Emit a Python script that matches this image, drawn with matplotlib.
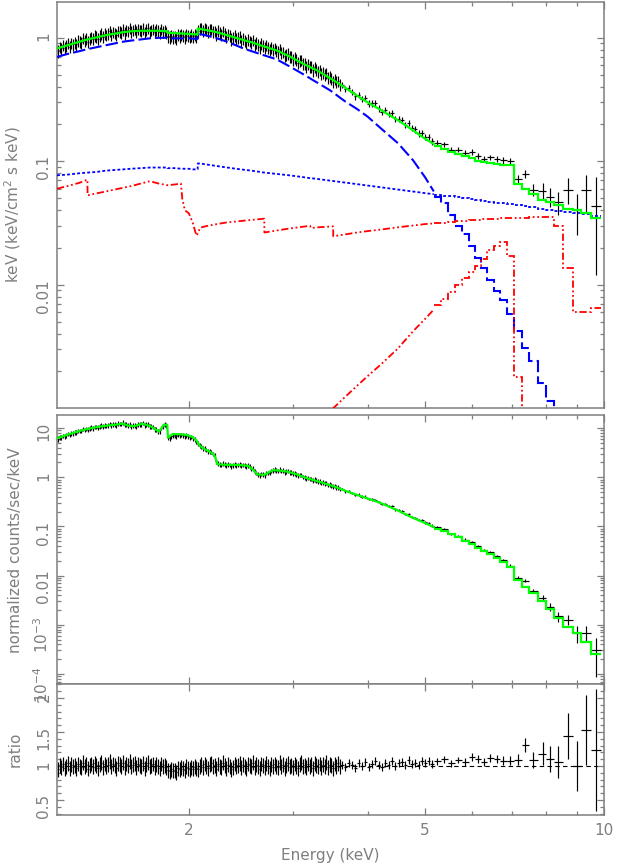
import numpy as np
import matplotlib
matplotlib.use('Agg')
from matplotlib import pyplot as plt
from matplotlib.ticker import FixedLocator, FixedFormatter, NullFormatter, LogLocator, MultipleLocator

plt.rcParams['font.family'] = ['DejaVu Sans']
plt.rcParams['mathtext.default'] = 'regular'

## ---- values (XSPEC style eufspec / ldata / ratio) ----

## smooth part of the unfolded model (keV), edges given as near-duplicate energies
e_sm = [1.20, 1.25, 1.31, 1.35, 1.351, 1.40, 1.45, 1.50, 1.55, 1.60,
        1.66, 1.72, 1.78, 1.84, 1.841, 1.90, 1.94, 1.95, 1.97, 2.00,
        2.03, 2.06, 2.07, 2.071, 2.09, 2.15, 2.23, 2.32, 2.40, 2.47,
        2.55, 2.68, 2.681, 2.81, 2.95, 3.11, 3.20, 3.21, 3.30, 3.46,
        3.50, 3.501, 3.65, 3.84, 4.00, 4.21, 4.50, 4.77, 5.00, 5.17]
tot_sm = [0.82, 0.87, 0.93, 0.97, 0.97, 1.01, 1.05, 1.08, 1.11, 1.13,
          1.14, 1.14, 1.14, 1.13, 1.10, 1.09, 1.085, 1.085, 1.08, 1.075,
          1.07, 1.065, 1.065, 1.19, 1.18, 1.15, 1.11, 1.05, 1.00, 0.96,
          0.92, 0.85, 0.85, 0.79, 0.71, 0.62, 0.58, 0.575, 0.54, 0.47,
          0.455, 0.455, 0.40, 0.34, 0.30, 0.26, 0.215, 0.178, 0.152, 0.138]
bb_sm = [0.70, 0.74, 0.78, 0.81, 0.81, 0.84, 0.87, 0.90, 0.93, 0.95,
         0.97, 0.99, 1.00, 1.00, 0.99, 0.99, 0.99, 0.99, 0.99, 0.99,
         0.985, 0.98, 0.98, 1.08, 1.07, 1.04, 0.99, 0.93, 0.87, 0.82,
         0.78, 0.72, 0.72, 0.67, 0.59, 0.51, 0.47, 0.465, 0.43, 0.375,
         0.36, 0.36, 0.31, 0.265, 0.23, 0.185, 0.14, 0.102, 0.074, 0.057]
pl_sm = [0.077, 0.078, 0.080, 0.081, 0.081, 0.082, 0.084, 0.085, 0.086, 0.087,
         0.088, 0.089, 0.089, 0.089, 0.088, 0.088, 0.087, 0.087, 0.087, 0.087,
         0.086, 0.086, 0.086, 0.096, 0.096, 0.094, 0.0915, 0.089, 0.087, 0.0855,
         0.084, 0.081, 0.081, 0.079, 0.077, 0.0745, 0.073, 0.073, 0.0718, 0.0697,
         0.0692, 0.0692, 0.0674, 0.0653, 0.0636, 0.0616, 0.0590, 0.0569, 0.0552, 0.0541]
r1_sm = [0.060, 0.063, 0.067, 0.071, 0.053, 0.055, 0.057, 0.059, 0.061, 0.063,
         0.066, 0.069, 0.066, 0.064, 0.064, 0.065, 0.066, 0.050, 0.040, 0.038,
         0.032, 0.025, 0.026, 0.026, 0.029, 0.030, 0.031, 0.032, 0.0325, 0.033,
         0.0335, 0.0343, 0.0265, 0.0275, 0.0285, 0.0295, 0.030, 0.0288, 0.0292, 0.0296,
         0.0297, 0.0247, 0.0255, 0.0265, 0.0272, 0.028, 0.0292, 0.0302, 0.031, 0.0314]
r2_sm = [0.000008, 0.00001, 0.000012, 0.000014, 0.000014, 0.000016, 0.000019, 0.000022, 0.000025, 0.000029,
         0.000034, 0.00004, 0.000046, 0.000053, 0.000053, 0.00006, 0.000066, 0.000067, 0.00007, 0.000075,
         0.00008, 0.000085, 0.000087, 0.000087, 0.00009, 0.0001, 0.00012, 0.00014, 0.00016, 0.00018,
         0.00021, 0.00030, 0.00030, 0.00037, 0.00046, 0.00058, 0.00065, 0.00066, 0.00077, 0.00095,
         0.00100, 0.00100, 0.00121, 0.00152, 0.00182, 0.00226, 0.00305, 0.0042, 0.0053, 0.0063]

## smooth part of the folded (counts) model
e_cs = [1.20, 1.26, 1.32, 1.37, 1.42, 1.47, 1.52, 1.55, 1.58, 1.62,
        1.67, 1.70, 1.73, 1.76, 1.78, 1.80, 1.815, 1.84, 1.845, 1.88,
        1.93, 1.98, 2.03, 2.06, 2.09, 2.13, 2.17, 2.20, 2.215, 2.235,
        2.29, 2.38, 2.46, 2.52, 2.57, 2.61, 2.68, 2.74, 2.78, 2.86,
        2.95, 3.05, 3.16, 3.33, 3.50, 3.72, 3.95, 4.21, 4.50, 4.77,
        5.00, 5.17]
cnt_sm = [6.2, 7.6, 9.0, 10.0, 10.8, 11.4, 11.9, 12.4, 11.2, 11.0,
          12.3, 11.6, 10.7, 9.3, 8.5, 10.0, 11.8, 11.6, 6.4, 7.6,
          7.5, 7.3, 6.6, 5.6, 4.3, 3.7, 3.3, 3.0, 2.6, 1.85,
          1.80, 1.79, 1.76, 1.70, 1.40, 1.14, 1.12, 1.30, 1.40, 1.36,
          1.28, 1.13, 0.96, 0.80, 0.66, 0.50, 0.39, 0.30, 0.21, 0.149,
          0.117, 0.097]

## coarse high-energy bins (centres, keV) with model values per bin
e_sp = [5.24, 5.38, 5.53, 5.68, 5.84, 6.00, 6.14, 6.29, 6.44, 6.61, 6.77,
        6.95, 7.17, 7.37, 7.60, 7.88, 8.12, 8.38, 8.71, 9.02, 9.31, 9.68]
tot_sp = [0.132, 0.125, 0.119, 0.114, 0.110, 0.106, 0.101, 0.098, 0.096, 0.095, 0.094,
          0.093, 0.066, 0.060, 0.054, 0.049, 0.047, 0.044, 0.041, 0.040, 0.038, 0.035]
bb_sp = [0.051, 0.0456, 0.037, 0.030, 0.026, 0.0207, 0.0166, 0.0137, 0.0110, 0.0089, 0.0075,
         0.0058, 0.0042, 0.0031, 0.0024, 0.0016, 0.00114, 0.0006, 0.0004, 0.0003, 0.0002, 0.00015]
pl_sp = [0.0537, 0.0528, 0.0519, 0.0510, 0.0501, 0.0492, 0.0485, 0.0478, 0.0471, 0.0463, 0.0456,
         0.0449, 0.0440, 0.0432, 0.0424, 0.0414, 0.0406, 0.0398, 0.0388, 0.0379, 0.0371, 0.0362]
r1_sp = [0.0315, 0.0318, 0.0322, 0.0326, 0.0330, 0.0333, 0.0336, 0.0339, 0.0341, 0.0343, 0.0345,
         0.0347, 0.0348, 0.0350, 0.0351, 0.0352, 0.0353, 0.0300, 0.0137, 0.0060, 0.0060, 0.0065]
r2_sp = [0.0068, 0.0077, 0.0088, 0.0100, 0.0114, 0.0128, 0.0142, 0.0162, 0.0190, 0.0205, 0.0220,
         0.0171, 0.0018, 0.0001, 0.0001, 0.0001, 0.0001, 0.0001, 0.0001, 0.0001, 0.0001, 0.0001]
cnt_sp = [0.090, 0.079, 0.069, 0.060, 0.051, 0.043, 0.036, 0.031, 0.027, 0.023, 0.019,
          0.0148, 0.0082, 0.0060, 0.0045, 0.0030, 0.0021, 0.0014, 0.00088, 0.00068, 0.00045, 0.00025]

## data / model ratio per bin: fine bins 1.2-3.6 keV, medium bins 3.6-5.17 keV, coarse bins above
ratio_dense = [0.95, 1.01, 0.98, 1.03, 0.97, 1.00, 1.04, 0.96, 1.02, 0.99,
               1.01, 0.97, 1.03, 1.00, 0.98, 1.05, 0.99, 1.02, 0.96, 1.01,
               1.03, 0.99, 1.04, 1.01, 0.97, 1.02, 1.05, 0.98, 1.03, 1.00,
               1.02, 1.06, 0.99, 1.03, 1.01, 0.97, 1.04, 1.02, 1.00, 1.05,
               0.98, 1.03, 1.01, 1.06, 0.99, 1.02, 1.04, 0.98, 1.03, 1.01,
               1.00, 1.04, 0.97, 1.02, 1.05, 0.99, 1.01, 1.03, 0.98, 1.02,
               1.00, 0.97, 1.03, 0.99, 1.01, 0.98, 0.94, 0.92, 0.95, 0.93,
               0.94, 0.91, 0.97, 0.95, 0.98, 0.96, 0.94, 0.99, 0.97, 0.95,
               0.98, 0.96, 0.99, 0.97, 0.95, 1.00, 1.02, 0.98, 1.03, 1.00,
               0.97, 1.02, 1.04, 0.99, 1.01, 0.96, 1.03, 1.00, 0.98, 1.05,
               1.01, 0.97, 1.02, 1.00, 0.95, 0.98, 1.03, 0.99, 1.01, 1.04,
               0.98, 1.02, 1.00, 0.97, 1.03, 1.01, 0.99, 1.05, 0.98, 1.02,
               1.00, 0.96, 1.03, 1.01, 0.98, 1.04, 1.00, 0.97, 1.02, 0.99,
               1.03, 1.00, 0.98, 1.05, 0.99, 1.02, 0.97, 1.01, 1.04, 0.99,
               1.01, 0.98, 1.03, 1.00, 0.97, 1.02, 1.05, 0.99, 1.01, 0.98,
               1.03, 1.00, 1.02, 0.97, 1.04, 1.01, 0.99, 1.03, 0.98, 1.02,
               1.00, 1.05, 0.98, 1.02, 1.01, 0.97, 1.03, 1.00, 1.04, 0.99]
ratio_mid = [1.02, 0.98, 1.05, 1.01, 0.97, 1.04, 1.00, 1.06, 0.99, 1.03,
             1.07, 1.01, 0.98, 1.05, 1.02, 1.08, 1.00, 1.04, 1.06, 1.01,
             1.09, 1.03, 1.05, 1.02, 1.07, 1.04, 1.08, 1.03]
ratio_sp = [1.07, 1.10, 1.04, 1.09, 1.06, 1.13, 1.10, 1.06, 1.12, 1.10, 1.08,
            1.08, 1.09, 1.31, 1.09, 1.18, 1.10, 1.06, 1.44, 1.00, 1.53, 1.24]
err_dense = 0.11
err_mid = 0.06
err_sp = [0.05, 0.05, 0.05, 0.05, 0.06, 0.06, 0.06, 0.06, 0.06, 0.06, 0.07,
          0.07, 0.08, 0.10, 0.12, 0.17, 0.19, 0.23, 0.34, 0.37, 0.52, 0.90]

## ---- bin grids ----
edg_d = np.geomspace(1.2, 3.6, len(ratio_dense) + 1)
edg_m = np.geomspace(3.6, 5.17, len(ratio_mid) + 1)
esp = np.array(e_sp)
mids = np.sqrt(esp[:-1] * esp[1:])
edg_s = np.concatenate([[5.17], mids, [esp[-1] ** 2 / mids[-1]]])

e_lo_fine = np.concatenate([edg_d[:-1], edg_m[:-1]])
e_hi_fine = np.concatenate([edg_d[1:], edg_m[1:]])
e_fine = np.sqrt(e_lo_fine * e_hi_fine)

e_all = np.concatenate([e_fine, esp])
e_lo = np.concatenate([e_lo_fine, edg_s[:-1]])
e_hi = np.concatenate([e_hi_fine, edg_s[1:]])
ratio = np.array(ratio_dense + ratio_mid + ratio_sp)
rerr = np.concatenate([np.full(len(ratio_dense), err_dense), np.full(len(ratio_mid), err_mid), err_sp])

def at_bins(e_grid, vals, vals_sp):
    fine = np.exp(np.interp(np.log(e_fine), np.log(e_grid), np.log(vals)))
    return np.concatenate([fine, vals_sp])

tot_b = at_bins(e_sm, tot_sm, tot_sp)
cnt_b = at_bins(e_cs, cnt_sm, cnt_sp)

## ---- figure ----
grey = '#7f7f7f'
green, blue, red = '#00ff00', '#0000ff', '#ff0000'
fig = plt.figure(figsize=(6.23, 8.66), dpi=100, facecolor='w')
L, W = 0.0915, 0.878
ax1 = fig.add_axes([L, 0.5289, W, 0.4688])
ax2 = fig.add_axes([L, 0.2096, W, 0.3112])
ax3 = fig.add_axes([L, 0.0589, W, 0.1507])

xerr = [e_all - e_lo, e_hi - e_all]
ebkw = dict(fmt='none', ecolor='k', elinewidth=0.85, capsize=0, zorder=2)

## top: unfolded spectrum
ax1.errorbar(e_all, tot_b * ratio, xerr=xerr, yerr=tot_b * rerr, **ebkw)
comps = [(bb_sm, bb_sp, blue, (0, (6, 2)), 1.5),
         (pl_sm, pl_sp, blue, (0, (1.6, 1.2)), 1.3),
         (r1_sm, r1_sp, red, (0, (4, 1.5, 1, 1.5, 1, 1.5)), 1.3),
         (r2_sm, r2_sp, red, (0, (4, 1.5, 1, 1.5, 1, 1.5)), 1.3),
         (tot_sm, tot_sp, green, '-', 1.6)]
for sm, sp, c, ls, lw in comps:
    ax1.plot(e_sm, sm, color=c, ls=ls, lw=lw, zorder=3)
    ax1.stairs(sp, edg_s, baseline=None, color=c, ls=ls, lw=lw, zorder=3)
ax1.set_yscale('log')
ax1.set_ylim(1.005e-3, 1.95)
ax1.yaxis.set_major_locator(FixedLocator([0.01, 0.1, 1]))
ax1.yaxis.set_major_formatter(FixedFormatter(['0.01', '0.1', '1']))
ax1.set_ylabel('keV (keV/cm$^2$ s keV)')

## middle: folded counts
ax2.errorbar(e_all, cnt_b * ratio, xerr=xerr, yerr=cnt_b * rerr, **ebkw)
ax2.plot(e_cs, cnt_sm, color=green, lw=1.6, zorder=3)
ax2.stairs(cnt_sp, edg_s, baseline=None, color=green, lw=1.6, zorder=3)
ax2.set_yscale('log')
ax2.set_ylim(6.1e-5, 18.5)
ax2.yaxis.set_major_locator(FixedLocator([1e-4, 1e-3, 0.01, 0.1, 1, 10]))
ax2.yaxis.set_major_formatter(FixedFormatter(['$10^{-4}$', '$10^{-3}$', '0.01', '0.1', '1', '10']))
ax2.set_ylabel('normalized counts/sec/keV')

## bottom: ratio
ax3.axhline(1.0, color='k', lw=0.8, ls=(0, (4, 3)), zorder=1)
ax3.errorbar(e_all, ratio, xerr=xerr, yerr=rerr, **ebkw)
ax3.set_ylim(0.28, 2.2)
ax3.yaxis.set_major_locator(FixedLocator([0.5, 1, 1.5, 2]))
ax3.yaxis.set_major_formatter(FixedFormatter(['0.5', '1', '1.5', '2']))
ax3.yaxis.set_minor_locator(MultipleLocator(0.1))
ax3.set_ylabel('ratio')
ax3.set_xlabel('Energy (keV)', color=grey, fontsize=11)
ax3.xaxis.set_label_coords(0.5, -0.255)

for ax in (ax1, ax2, ax3):
    ax.set_xscale('log')
    ax.set_xlim(1.2, 10.0)
    ax.xaxis.set_major_locator(FixedLocator([2, 5, 10]))
    ax.xaxis.set_minor_locator(FixedLocator([3, 4, 6, 7, 8, 9]))
    ax.xaxis.set_minor_formatter(NullFormatter())
    if ax is ax3:
        ax.xaxis.set_major_formatter(FixedFormatter(['2', '5', '10']))
    else:
        ax.xaxis.set_major_formatter(NullFormatter())
    if ax is not ax3:
        ax.yaxis.set_minor_locator(LogLocator(base=10, subs=np.arange(2, 10), numticks=30))
        ax.yaxis.set_minor_formatter(NullFormatter())
    for s in ax.spines.values():
        s.set_color(grey)
        s.set_linewidth(1.1)
    ax.tick_params(which='both', direction='in', top=True, right=True, color=grey,
                   labelcolor=grey, labelsize=11, width=0.9)
    ax.tick_params(which='major', length=5)
    ax.tick_params(which='minor', length=2.8)
    ax.tick_params(axis='y', labelrotation=90, pad=4)
    ax.tick_params(axis='x', pad=6)
    ax.yaxis.label.set_color(grey)
    ax.yaxis.label.set_fontsize(11)
    ax.yaxis.set_label_coords(-0.062, 0.5)

fig.savefig('out.png', dpi=100, facecolor='w')
